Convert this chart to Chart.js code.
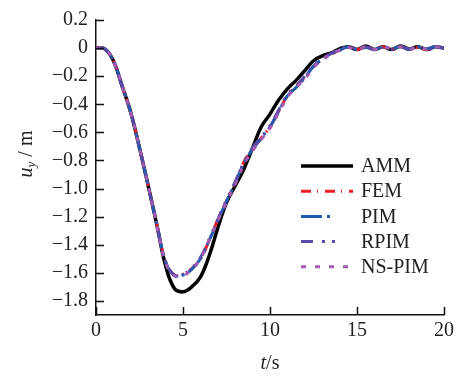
<!DOCTYPE html>
<html>
<head>
<meta charset="utf-8">
<script src="https://cdn.jsdelivr.net/npm/chart.js@4"></script>
<style>
    html, body { margin: 0; padding: 0; background: #fff; }
    #wrap { width: 461px; height: 376px; }
</style>
</head>
<body>
<div id="wrap"><canvas id="uy-chart" width="461" height="376"></canvas></div>
<script>
// time axis (s)
const times = [0, 0.5, 1, 1.5, 2, 2.5, 3, 3.5, 4, 4.5, 5, 5.5, 6, 6.5, 7, 7.5, 8, 8.5, 9, 9.5, 10,
    10.5, 11, 11.5, 12, 12.5, 13, 13.5, 14, 14.5, 15, 15.5, 16, 16.5, 17, 17.5, 18, 18.5, 19, 19.5, 20];

// displacement u_y (m) for each method
const amm = [0, -0.005, -0.09, -0.27, -0.46, -0.71, -0.98, -1.26, -1.55, -1.71, -1.735, -1.70, -1.63, -1.48,
    -1.28, -1.10, -0.98, -0.86, -0.71, -0.56, -0.47, -0.37, -0.29, -0.23, -0.16, -0.09, -0.055, -0.035,
    -0.005, 0.01, -0.01, 0.015, -0.01, 0.01, -0.01, 0.015, -0.005, 0.01, -0.01, 0.01, 0];
const fem = [0, -0.005, -0.09, -0.27, -0.46, -0.71, -0.98, -1.26, -1.52, -1.615, -1.61, -1.57, -1.50, -1.37,
    -1.22, -1.09, -0.96, -0.81, -0.72, -0.64, -0.56, -0.45, -0.34, -0.27, -0.21, -0.13, -0.08, -0.045,
    -0.015, 0.005, -0.01, 0.01, -0.005, 0.01, -0.01, 0.01, -0.01, 0.005, -0.01, 0.01, 0];
const pim = [0, -0.005, -0.09, -0.27, -0.46, -0.71, -0.98, -1.26, -1.52, -1.62, -1.615, -1.575, -1.50, -1.37,
    -1.23, -1.09, -0.96, -0.82, -0.72, -0.64, -0.56, -0.45, -0.34, -0.28, -0.21, -0.13, -0.08, -0.04,
    -0.015, 0.01, -0.01, 0.005, -0.01, 0.01, -0.005, 0.01, -0.01, 0.01, -0.005, 0.01, 0];
const rpim = [0, -0.005, -0.09, -0.27, -0.46, -0.71, -0.98, -1.26, -1.52, -1.615, -1.61, -1.565, -1.49, -1.36,
    -1.22, -1.08, -0.95, -0.81, -0.71, -0.63, -0.55, -0.44, -0.33, -0.27, -0.20, -0.12, -0.075, -0.04,
    -0.01, 0.01, -0.005, 0.01, -0.01, 0.005, -0.01, 0.01, -0.005, 0.01, -0.01, 0.005, 0];
const nsPim = [0, -0.005, -0.09, -0.27, -0.46, -0.71, -0.98, -1.26, -1.53, -1.62, -1.62, -1.575, -1.50, -1.37,
    -1.23, -1.10, -0.97, -0.83, -0.73, -0.65, -0.57, -0.46, -0.35, -0.28, -0.22, -0.14, -0.085, -0.045,
    -0.015, 0.005, -0.01, 0.01, -0.01, 0.01, -0.005, 0.01, -0.01, 0.01, -0.01, 0.01, 0];

// tick labels
const xTicks = [0, 5, 10, 15, 20];
const yTicks = [0.2, 0, -0.2, -0.4, -0.6, -0.8, -1.0, -1.2, -1.4, -1.6, -1.8];

const serif = '"Liberation Serif", "DejaVu Serif", serif';

const toPoints = vals => vals.map((v, i) => ({ x: times[i], y: v }));

// inward tick marks on both axes
const innerTicks = {
    id: 'innerTicks',
    afterDatasetsDraw(chart) {
        const { ctx, chartArea, scales } = chart;
        ctx.save();
        ctx.strokeStyle = '#111';
        ctx.lineWidth = 1.5;
        ctx.beginPath();
        xTicks.forEach(t => {
            const px = Math.round(scales.x.getPixelForValue(t)) + 0.5;
            ctx.moveTo(px, chartArea.bottom);
            ctx.lineTo(px, chartArea.bottom - 8);
        });
        yTicks.forEach(t => {
            const py = Math.round(scales.y.getPixelForValue(t)) + 0.5;
            ctx.moveTo(chartArea.left, py);
            ctx.lineTo(chartArea.left + 8, py);
        });
        ctx.stroke();
        ctx.restore();
    }
};

// axis titles with italic symbols and subscript
const axisTitles = {
    id: 'axisTitles',
    afterDraw(chart) {
        const { ctx, chartArea } = chart;
        ctx.save();
        ctx.fillStyle = '#222';
        ctx.textBaseline = 'middle';

        // x title: t/s
        ctx.font = 'italic 20px ' + serif;
        const wT = ctx.measureText('t').width;
        ctx.font = '20px ' + serif;
        const wS = ctx.measureText('/s').width;
        let x0 = (chartArea.left + chartArea.right) / 2 - (wT + wS) / 2;
        ctx.textAlign = 'left';
        ctx.font = 'italic 20px ' + serif;
        ctx.fillText('t', x0, 364);
        ctx.font = '20px ' + serif;
        ctx.fillText('/s', x0 + wT, 364);

        // y title: u_y / m
        ctx.translate(27, 154);
        ctx.rotate(-Math.PI / 2);
        ctx.font = 'italic 20px ' + serif;
        const wU = ctx.measureText('u').width;
        ctx.font = 'italic 13px ' + serif;
        const wY = ctx.measureText('y').width;
        ctx.font = '20px ' + serif;
        const wM = ctx.measureText(' / m').width;
        let s = -(wU + wY + wM) / 2;
        ctx.font = 'italic 20px ' + serif;
        ctx.fillText('u', s, 0);
        ctx.font = 'italic 13px ' + serif;
        ctx.fillText('y', s + wU, 5);
        ctx.font = '20px ' + serif;
        ctx.fillText(' / m', s + wU + wY, 0);
        ctx.restore();
    }
};

// legend drawn inside the plot, lines with their own dash patterns
const insideLegend = {
    id: 'insideLegend',
    afterDraw(chart) {
        const { ctx } = chart;
        ctx.save();
        ctx.font = '20px ' + serif;
        ctx.textBaseline = 'middle';
        ctx.textAlign = 'left';
        chart.data.datasets.forEach((ds, i) => {
            const y = 166 + i * 25.2;
            ctx.strokeStyle = ds.borderColor;
            ctx.lineWidth = ds.borderWidth;
            ctx.setLineDash(ds.legendDash || []);
            ctx.beginPath();
            ctx.moveTo(301, y);
            ctx.lineTo(353, y);
            ctx.stroke();
            ctx.setLineDash([]);
            ctx.fillStyle = '#222';
            ctx.fillText(ds.label, 361, y + 1);
        });
        ctx.restore();
    }
};

new Chart(document.getElementById('uy-chart'), {
    type: 'line',
    data: {
        datasets: [
            {
                label: 'AMM',
                data: toPoints(amm),
                borderColor: '#000000',
                borderWidth: 3.5,
                order: 5
            },
            {
                label: 'FEM',
                data: toPoints(fem),
                borderColor: '#ee1c25',
                borderWidth: 3,
                borderDash: [10, 6, 2, 6],
                legendDash: [10, 6, 1, 7],
                order: 4
            },
            {
                label: 'PIM',
                data: toPoints(pim),
                borderColor: '#1f5bb0',
                borderWidth: 3,
                borderDash: [20, 5, 3, 5],
                legendDash: [21, 5, 3, 30],
                order: 3
            },
            {
                label: 'RPIM',
                data: toPoints(rpim),
                borderColor: '#5a4ca6',
                borderWidth: 3,
                borderDash: [12, 8, 2, 8, 2, 8],
                legendDash: [12, 9, 3, 7, 3, 20],
                order: 2
            },
            {
                label: 'NS-PIM',
                data: toPoints(nsPim),
                borderColor: '#a25bb0',
                borderWidth: 3,
                borderDash: [5, 8],
                legendDash: [5, 9],
                order: 1
            }
        ]
    },
    options: {
        responsive: false,
        animation: false,
        events: [],
        layout: {
            padding: { top: 16, right: 17, left: 0, bottom: 0 }
        },
        elements: {
            point: { radius: 0 },
            line: { tension: 0.4, borderCapStyle: 'butt', fill: false }
        },
        plugins: {
            legend: { display: false },
            tooltip: { enabled: false }
        },
        scales: {
            x: {
                type: 'linear',
                min: 0,
                max: 20,
                afterBuildTicks: s => { s.ticks = xTicks.map(v => ({ value: v })); },
                afterFit: s => { s.height = 61; },
                grid: { display: false, drawTicks: false },
                border: { display: true, color: '#111', width: 1.5 },
                ticks: {
                    padding: 4,
                    maxRotation: 0,
                    color: '#222',
                    font: { family: serif, size: 20 }
                }
            },
            y: {
                min: -1.9,
                max: 0.2,
                afterBuildTicks: s => { s.ticks = yTicks.map(v => ({ value: v })); },
                afterFit: s => { s.width = 96; },
                grid: { display: false, drawTicks: false },
                border: { display: true, color: '#111', width: 1.5 },
                ticks: {
                    padding: 8,
                    color: '#222',
                    font: { family: serif, size: 20 },
                    callback: v => {
                        if (Math.abs(v) < 1e-9) return '0';
                        return v < 0 ? '\u2212' + Math.abs(v).toFixed(1) : v.toFixed(1);
                    }
                }
            }
        }
    },
    plugins: [innerTicks, axisTitles, insideLegend]
});
</script>
</body>
</html>
